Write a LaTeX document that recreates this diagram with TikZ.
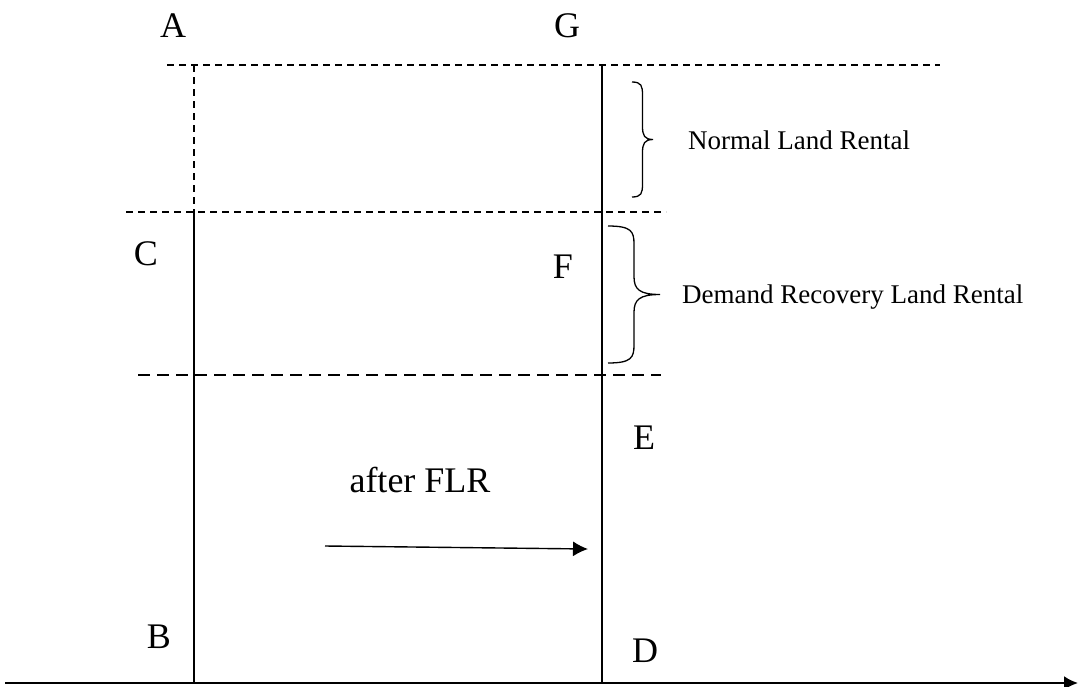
\documentclass[tikz,border=0pt]{standalone}
\usepackage{fontspec}
\setmainfont{Liberation Serif}
\usetikzlibrary{arrows.meta}
\tikzset{
  pt/.style={font=\fontsize{36}{40}\selectfont,anchor=base,inner sep=0pt},
  note/.style={font=\fontsize{27}{30}\selectfont,anchor=base west,inner sep=0pt},
  ln/.style={line width=1.3pt},
  sdsh/.style={ln,dash pattern=on 7pt off 5pt},
  ldsh/.style={ln,dash pattern=on 12pt off 7pt},
  arr/.style={-{Latex[length=15pt,width=15pt]},line width=1.4pt},
  axis/.style={-{Latex[length=14pt,width=14pt]},line width=2.2pt}
}
% x, top, bottom, width, curl
\newcommand{\curly}[5]{%
  \draw[ln] (#1,#2) .. controls ({#1+0.45*#4},#2) and ({#1+0.5*#4},{#2+0.3*#5}) .. ({#1+0.5*#4},{#2+#5})
    -- ({#1+0.5*#4},{(#2+#3)/2-#5}) .. controls ({#1+0.5*#4},{(#2+#3)/2-0.3*#5}) and ({#1+0.6*#4},{(#2+#3)/2}) .. ({#1+#4},{(#2+#3)/2})
    .. controls ({#1+0.6*#4},{(#2+#3)/2}) and ({#1+0.5*#4},{(#2+#3)/2+0.3*#5}) .. ({#1+0.5*#4},{(#2+#3)/2+#5})
    -- ({#1+0.5*#4},{#3-#5}) .. controls ({#1+0.5*#4},{#3-0.3*#5}) and ({#1+0.45*#4},#3) .. (#1,#3);}

\begin{document}
\begin{tikzpicture}[x=1pt,y=-1pt]
\useasboundingbox (0,0) rectangle (1079,686);
\coordinate (a0) at (194,65); \coordinate (a1) at (194,212);
\coordinate (b0) at (194,683);
\coordinate (g0) at (602,65); \coordinate (d0) at (602,683);
\coordinate (o) at (5,683); \coordinate (xe) at (1078,683);
\draw[sdsh] (167,65) -- (940,65);
\draw[sdsh] (126,212) -- (666,212);
\draw[ldsh] (138,375) -- (661,375);
\draw[sdsh] (a0) -- (a1);
\draw[ln] (a1) -- (b0);
\draw[ln] (g0) -- (d0);
\draw[axis] (o) -- (xe);
\curly{632}{82}{197}{21}{13}
\curly{608}{226}{363}{52}{18}
\coordinate (s) at (325,546); \coordinate (t) at (588,549);
\draw[arr] (s) -- (t);
\node[pt] (A) at (173,37) {A};
\node[pt] (G) at (567,37) {G};
\node[pt] (C) at (146,265) {C};
\node[pt] (F) at (563,278) {F};
\node[pt] (E) at (644,449) {E};
\node[pt] (B) at (159,648) {B};
\node[pt] (D) at (645,662) {D};
\node[pt] (flr) at (420,492) {after FLR};
\node[note] (nlr) at (688,149) {Normal Land Rental};
\node[note] (drl) at (682,303) {Demand Recovery Land Rental};
\end{tikzpicture}
\end{document}
